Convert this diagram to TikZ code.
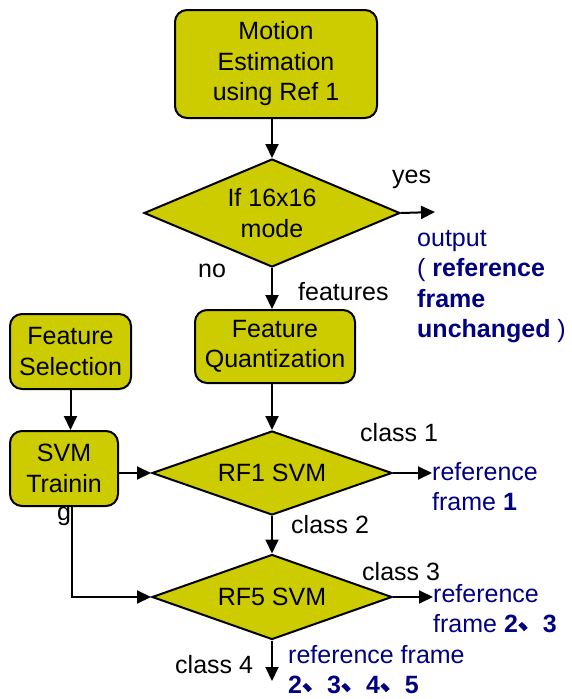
\documentclass[tikz,border=0pt]{standalone}
\usepackage{fontspec}
\setmainfont{Liberation Sans}
\newfontfamily\cjk{Noto Sans CJK SC}[FakeBold=2.5]
\usetikzlibrary{shapes.geometric}
\usetikzlibrary{arrows.meta}
\definecolor{boxfill}{RGB}{204,204,0}
\definecolor{navy}{RGB}{0,0,128}
\newcommand{\dun}{\raisebox{4pt}{\cjk 、}}

\begin{document}
\begin{tikzpicture}[x=1pt, y=-1pt, font=\fontsize{25}{30.5}\selectfont,
    box/.style={draw, line width=2pt, fill=boxfill, rounded corners=12pt, align=center, inner sep=0pt},
    decision/.style={draw, line width=2pt, fill=boxfill, diamond, inner sep=0pt, align=center},
    pfeil/.style={-{Triangle[length=14pt,width=13pt]}, line width=2pt},
    outtext/.style={navy, align=left, inner sep=0pt, anchor=north west},
    note/.style={inner sep=0pt, anchor=base west}]

    \useasboundingbox (0,0) rectangle (571,699);

    % main column
    \node[box, minimum width=202pt, minimum height=108pt] (motion) at (276,64) {Motion\\Estimation\\using Ref 1};
    \node[decision, shape aspect=2.4, minimum width=256pt, minimum height=108pt] (mode) at (272,213) {If 16x16\\mode};
    \node[box, minimum width=160pt, minimum height=73pt] (quant) at (275,346.5) {Feature\\Quantization};
    \node[decision, shape aspect=2.9, minimum width=240pt, minimum height=84pt] (rf1) at (272,473) {RF1 SVM};
    \node[decision, shape aspect=2.9, minimum width=240pt, minimum height=85pt] (rf5) at (272,597) {RF5 SVM};

    % training column
    \node[box, minimum width=121pt, minimum height=75pt] (select) at (70.5,351.5) {Feature\\Selection};
    \node[box, minimum width=108pt, minimum height=75pt,
          label={[inner sep=0pt, anchor=north]below:g}] (train) at (64,468.5) {SVM\\Trainin};

    % outputs
    \node[outtext] (out) at (417,230) {output\\( \textbf{reference}\\\textbf{frame}\\\textbf{unchanged} )};
    \node[outtext] (ref1) at (432,462) {reference\\frame \textbf{1}};
    \node[outtext] (ref23) at (433,584) {reference\\frame \textbf{2\dun3}};
    \node[outtext] (ref2345) at (288,645) {reference frame\\\textbf{2\dun3\dun4\dun5}};
    \coordinate (yesend) at (435,212);
    \coordinate (fourend) at (272,681);

    % labels
    \node[note] (yes) at (392,183) {yes};
    \node[note] (no) at (198,277) {no};
    \node[note] (feat) at (298,300) {features};
    \node[note] (c1) at (360,441) {class 1};
    \node[note] (c2) at (291,533) {class 2};
    \node[note] (c3) at (362,580) {class 3};
    \node[note] (c4) at (175,673) {class 4};

    \draw[pfeil] (mode.north |- motion.south) -- (mode.north);
    \draw[pfeil] (mode.east) -- (yesend);
    \draw[pfeil] (mode.south) -- (mode.south |- quant.north);
    \draw[pfeil] (rf1.north |- quant.south) -- (rf1.north);
    \draw[pfeil] (select.south) -- (select.south |- train.north);
    \draw[pfeil] (train.east |- rf1.west) -- (rf1.west);
    \draw[pfeil] ([xshift=8pt]train.south) |- (rf5.west);
    \draw[pfeil] (rf1.east) -- (ref1.west |- rf1.east);
    \draw[pfeil] (rf1.south) -- (rf5.north);
    \draw[pfeil] (rf5.east) -- (ref23.west |- rf5.east);
    \draw[pfeil] (rf5.south) -- (fourend);

\end{tikzpicture}
\end{document}
